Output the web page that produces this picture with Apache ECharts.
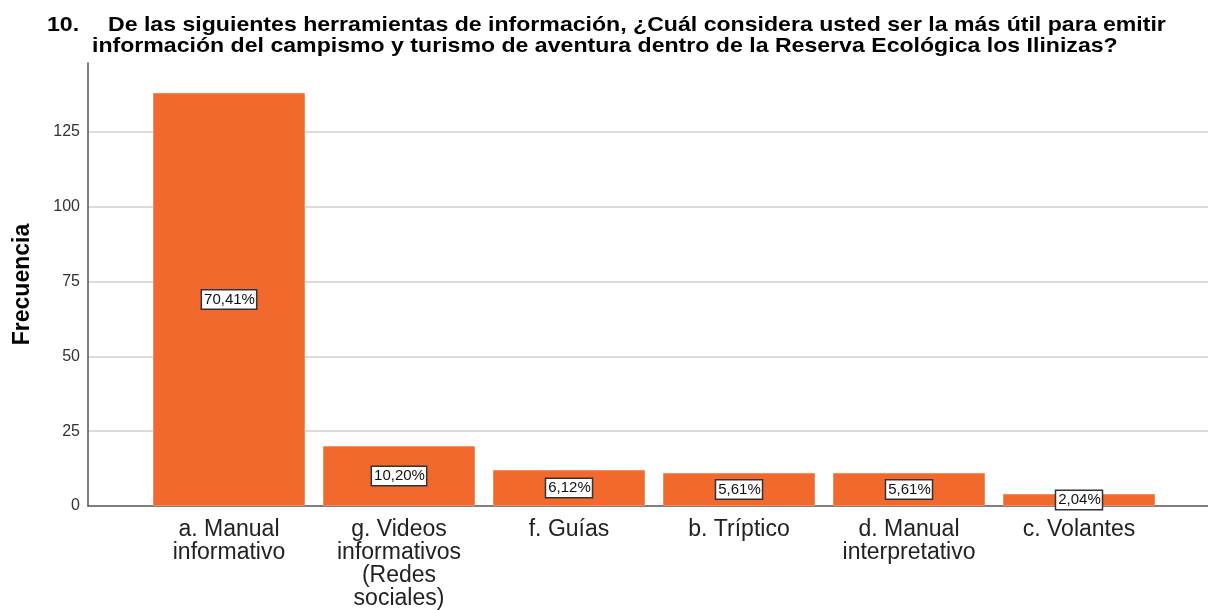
<!DOCTYPE html>
<html>
<head>
<meta charset="utf-8">
<script src="https://cdn.jsdelivr.net/npm/echarts@6/dist/echarts.min.js"></script>
<style>
  html, body { margin: 0; padding: 0; background: #fff; }
  #chart { width: 1208px; height: 610px; }
</style>
</head>
<body>
<div id="chart"></div>
<script>
// Herramientas de información (frecuencias por opción)
const categories = [
  'a. Manual\ninformativo',
  'g. Videos\ninformativos\n(Redes\nsociales)',
  'f. Guías',
  'b. Tríptico',
  'd. Manual\ninterpretativo',
  'c. Volantes'
];
const frequencies = [138, 20, 12, 11, 11, 4];
const yTicks = [0, 25, 50, 75, 100, 125];

const titleNumber = '10.';
const titleLine1 = 'De las siguientes herramientas de información, ¿Cuál considera usted ser la más útil para emitir';
const titleLine2 = 'información del campismo y turismo de aventura dentro de la Reserva Ecológica los Ilinizas?';

const total = frequencies.reduce((a, b) => a + b, 0);
const pct = v => (v / total * 100).toFixed(2).replace('.', ',') + '%';

const font = '"Liberation Sans", Arial, sans-serif';
const yMax = 148;

// Title lines: bold Arial-like type, slightly widened
const titleText = (text, x, y) => ({
  type: 'text', x: x, y: y, scaleX: 1.1, scaleY: 1,
  style: {
    text: text, fontFamily: font, fontSize: 21, fontWeight: 'bold',
    fill: '#000', align: 'left', verticalAlign: 'middle'
  }
});

const chart = echarts.init(document.getElementById('chart'));
chart.setOption({
  backgroundColor: '#fff',
  animation: false,
  graphic: [
    titleText(titleNumber, 47, 25),
    titleText(titleLine1, 108, 25),
    titleText(titleLine2, 92, 46)
  ],
  grid: [
    { left: 88, right: 0, top: 63, bottom: 104 },
    { left: 144, width: 1020, top: 63, bottom: 104 }
  ],
  xAxis: [
    {
      gridIndex: 0, type: 'value', min: 0, max: 1,
      axisLine: { show: true, lineStyle: { color: '#555', width: 1.5 } },
      axisTick: { show: false }, axisLabel: { show: false }, splitLine: { show: false }
    },
    {
      gridIndex: 1, type: 'category', data: categories,
      axisLine: { show: false }, axisTick: { show: false },
      axisLabel: {
        interval: 0, margin: 12,
        fontFamily: font, fontSize: 23, lineHeight: 23, color: '#222'
      }
    }
  ],
  yAxis: [
    {
      gridIndex: 0, type: 'value', min: yTicks[0], max: yMax, interval: 25,
      name: 'Frecuencia', nameLocation: 'middle', nameGap: 54,
      nameTextStyle: { fontFamily: font, fontSize: 23, fontWeight: 'bold', color: '#000' },
      axisLine: { show: true, lineStyle: { color: '#555', width: 1.5 } },
      axisTick: { show: false },
      axisLabel: {
        margin: 8, fontFamily: font, fontSize: 16, color: '#333', showMaxLabel: false,
        formatter: v => (yTicks.includes(v) ? String(v) : '')
      },
      splitLine: { show: true, showMinLine: false, showMaxLine: false, lineStyle: { color: '#cfcfcf', width: 1.5 } }
    },
    {
      gridIndex: 1, type: 'value', min: yTicks[0], max: yMax, show: false
    }
  ],
  series: [
    {
      type: 'bar',
      xAxisIndex: 1, yAxisIndex: 1,
      data: frequencies,
      barWidth: 152,
      itemStyle: { color: '#F1692C', borderColor: '#F48B5A', borderWidth: 1 },
      label: {
        show: true, position: 'inside',
        formatter: p => pct(p.value),
        fontFamily: font, fontSize: 15, color: '#111',
        backgroundColor: '#fff', borderColor: '#333', borderWidth: 1.5,
        padding: [2, 1, 1, 2]
      }
    }
  ]
});
</script>
</body>
</html>
